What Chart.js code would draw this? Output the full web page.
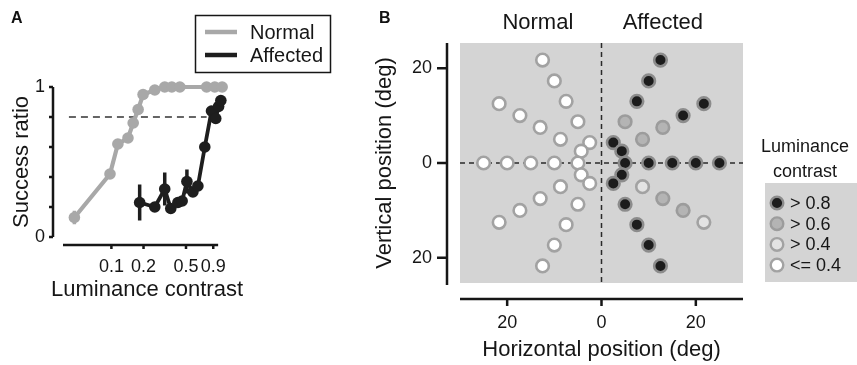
<!DOCTYPE html>
<html>
<head>
<meta charset="utf-8">
<script src="https://cdn.jsdelivr.net/npm/chart.js@4.4.1/dist/chart.umd.min.js"></script>
<style>
  html, body { margin: 0; padding: 0; background: #fff; }
  #wrap { position: relative; width: 857px; height: 365px; font-family: "Liberation Sans", Arial, sans-serif; color: #111; }
  #chartA { position: absolute; left: 0; top: 0; }
  #chartB { position: absolute; left: 360px; top: 0; }
  .tag { position: absolute; font-weight: bold; font-size: 16px; line-height: 20px; }
</style>
</head>
<body>
<div id="wrap">
  <canvas id="chartA" width="360" height="365"></canvas>
  <canvas id="chartB" width="497" height="365"></canvas>
  <div class="tag" style="left:11px;top:8px">A</div>
  <div class="tag" style="left:379px;top:8px">B</div>
</div>
<script>
'use strict';

// ---- panel A : success ratio vs luminance contrast
const contrastNormal   = [0.045, 0.097, 0.115, 0.143, 0.16, 0.178, 0.198, 0.255, 0.316, 0.368, 0.438, 0.78, 0.93, 1.09];
const successNormal    = [0.13, 0.42, 0.62, 0.66, 0.76, 0.85, 0.95, 0.98, 1.0, 1.0, 1.0, 1.0, 1.0, 1.0];
const errNormal        = [0.045, 0.02, 0.02, 0.02, 0.02, 0.02, 0.02, 0.01, 0.01, 0.01, 0.01, 0.01, 0.01, 0.01];
const contrastAffected = [0.184, 0.255, 0.316, 0.36, 0.42, 0.46, 0.51, 0.58, 0.646, 0.75, 0.867, 0.95, 1.01, 1.06];
const successAffected  = [0.23, 0.20, 0.32, 0.19, 0.23, 0.24, 0.37, 0.30, 0.34, 0.60, 0.84, 0.79, 0.87, 0.91];
const errAffected      = [0.12, 0.02, 0.11, 0.03, 0.02, 0.02, 0.08, 0.03, 0.03, 0.03, 0.03, 0.03, 0.02, 0.02];
const thresholdContrast = [0.04, 0.78];
const thresholdLevel    = 0.8;
const xTicksA = [0.1, 0.2, 0.5, 0.9];
const yTicksA = [0, 1];
const yMarksA = [0, 0.2, 0.4, 0.6, 0.8, 1];
const legendOrderA = ['Normal', 'Affected'];

// ---- panel B : target positions (deg), coloured by luminance contrast
const normalX = [-2.5, -5, -7.5, -10, -12.5,  -4.3, -8.7, -13, -17.3, -21.7,  -5, -10, -15, -20, -25,  -4.3, -8.7, -13, -17.3, -21.7,  -2.5, -5, -7.5, -10, -12.5];
const normalY = [4.3, 8.7, 13, 17.3, 21.7,  2.5, 5, 7.5, 10, 12.5,  0, 0, 0, 0, 0,  -2.5, -5, -7.5, -10, -12.5,  -4.3, -8.7, -13, -17.3, -21.7];
const normalLum = [0.3, 0.3, 0.3, 0.3, 0.3,  0.3, 0.3, 0.3, 0.3, 0.3,  0.3, 0.3, 0.3, 0.3, 0.3,  0.3, 0.3, 0.3, 0.3, 0.3,  0.3, 0.3, 0.3, 0.3, 0.3];
const affectedX = [2.5, 5, 7.5, 10, 12.5,  4.3, 8.7, 13, 17.3, 21.7,  5, 10, 15, 20, 25,  4.3, 8.7, 13, 17.3, 21.7,  2.5, 5, 7.5, 10, 12.5];
const affectedY = [4.3, 8.7, 13, 17.3, 21.7,  2.5, 5, 7.5, 10, 12.5,  0, 0, 0, 0, 0,  -2.5, -5, -7.5, -10, -12.5,  -4.3, -8.7, -13, -17.3, -21.7];
const affectedLum = [0.9, 0.7, 0.9, 0.9, 0.9,  0.9, 0.7, 0.7, 0.9, 0.9,  0.9, 0.9, 0.9, 0.9, 0.9,  0.9, 0.5, 0.7, 0.7, 0.5,  0.9, 0.9, 0.9, 0.9, 0.9];
const lumLabels = ['> 0.8', '> 0.6', '> 0.4', '<= 0.4'];
const lumLimits = [0.8, 0.6, 0.4];
const posTicks = [-20, 0, 20];
const sideLabels = ['Normal', 'Affected'];

const lumFill = ['#1c1c1c', '#b4b4b4', '#e3e3e3', '#ffffff'];
const lumRing = ['#8c8c8c', '#9c9c9c', '#a2a2a2', '#a2a2a2'];
const FONT = '"Liberation Sans", Arial, sans-serif';
const INK = '#161616';

Chart.defaults.font.family = FONT;
Chart.defaults.color = INK;

const lumIndex = v => v > lumLimits[0] ? 0 : v > lumLimits[1] ? 1 : v > lumLimits[2] ? 2 : 3;
const pts = (xs, ys) => xs.map((x, i) => ({ x, y: ys[i] }));

// detached axis lines + tick marks, drawn through the chart's scales
function makeAxes(c) {
  return {
    id: 'axes',
    afterDraw(chart) {
      const { ctx, chartArea: ca, scales: { x, y } } = chart;
      ctx.save();
      ctx.strokeStyle = INK;
      ctx.lineWidth = c.width;
      const ax = ca.left - c.yGap;
      ctx.beginPath();
      ctx.moveTo(ax, ca.top - c.yExt[0]);
      ctx.lineTo(ax, ca.bottom + c.yExt[1]);
      c.yMarks.forEach(v => { const p = y.getPixelForValue(v); ctx.moveTo(ax, p); ctx.lineTo(ax - c.yTick, p); });
      const ay = ca.bottom + c.xGap;
      const x0 = c.xFrom != null ? x.getPixelForValue(c.xFrom) : ca.left;
      const x1 = c.xTo != null ? x.getPixelForValue(c.xTo) : ca.right;
      ctx.moveTo(x0, ay);
      ctx.lineTo(x1, ay);
      c.xMarks.forEach(v => { const p = x.getPixelForValue(v); ctx.moveTo(p, ay); ctx.lineTo(p, ay + c.xTick); });
      ctx.stroke();
      if (c.xTitle) {
        // drawn here so the text is not squeezed to the short axis width
        ctx.fillStyle = INK;
        ctx.font = '22px ' + FONT;
        ctx.textAlign = 'center';
        ctx.textBaseline = 'middle';
        ctx.fillText(c.xTitle, c.xTitlePos[0], c.xTitlePos[1]);
      }
      ctx.restore();
    }
  };
}

const errorBars = {
  id: 'errorBars',
  beforeDatasetsDraw(chart) {
    const { ctx, scales: { y } } = chart;
    chart.data.datasets.forEach((ds, di) => {
      if (!ds.errors) return;
      const meta = chart.getDatasetMeta(di);
      ctx.save();
      ctx.strokeStyle = ds.borderColor;
      ctx.lineWidth = 3.5;
      ctx.beginPath();
      ds.data.forEach((d, i) => {
        const px = meta.data[i].x;
        ctx.moveTo(px, y.getPixelForValue(d.y - ds.errors[i]));
        ctx.lineTo(px, y.getPixelForValue(d.y + ds.errors[i]));
      });
      ctx.stroke();
      ctx.restore();
    });
  }
};

const legendA = {
  id: 'legendA',
  afterDraw(chart) {
    const { ctx } = chart;
    ctx.save();
    ctx.strokeStyle = INK;
    ctx.lineWidth = 1.5;
    ctx.strokeRect(195.5, 15.5, 135, 57);
    legendOrderA.forEach((name, i) => {
      const ds = chart.data.datasets.find(d => d.label === name);
      const yy = 32 + i * 23;
      ctx.strokeStyle = ds.borderColor;
      ctx.lineWidth = 4.5;
      ctx.beginPath();
      ctx.moveTo(205, yy);
      ctx.lineTo(237, yy);
      ctx.stroke();
      ctx.fillStyle = INK;
      ctx.font = '20px ' + FONT;
      ctx.textBaseline = 'middle';
      ctx.fillText(name, 250, yy + 1);
    });
    ctx.restore();
  }
};

new Chart(document.getElementById('chartA'), {
  type: 'line',
  data: {
    datasets: [
      {
        label: 'Affected', data: pts(contrastAffected, successAffected), errors: errAffected,
        borderColor: '#1e1e1e', backgroundColor: '#1e1e1e', borderWidth: 3.8,
        pointRadius: 5.8, pointBorderWidth: 0, clip: false,
      },
      {
        label: 'Normal', data: pts(contrastNormal, successNormal), errors: errNormal,
        borderColor: '#a8a8a8', backgroundColor: '#a8a8a8', borderWidth: 4.2,
        pointRadius: 5.8, pointBorderWidth: 0, clip: false,
      },
      {
        label: 'threshold', data: thresholdContrast.map(x => ({ x, y: thresholdLevel })),
        borderColor: '#333', borderWidth: 1.5, borderDash: [7, 5], pointRadius: 0,
      },
    ],
  },
  options: {
    responsive: false,
    animation: false,
    layout: { padding: { left: 0, right: 129, top: 87, bottom: 0 } },
    plugins: { legend: { display: false }, tooltip: { enabled: false } },
    scales: {
      x: {
        type: 'logarithmic', min: 0.0352, max: 1.32,
        grid: { display: false, drawTicks: false }, border: { display: false },
        afterBuildTicks: s => { s.ticks = xTicksA.map(value => ({ value })); },
        afterFit: s => { s.height = 128; },
        ticks: { autoSkip: false, maxRotation: 0, padding: 19, font: { size: 18 }, callback: v => String(v) },
      },
      y: {
        min: 0, max: 1,
        grid: { display: false, drawTicks: false }, border: { display: false },
        afterBuildTicks: s => { s.ticks = yTicksA.map(value => ({ value })); },
        afterFit: s => { s.width = 63; },
        ticks: { padding: 18, font: { size: 18 }, callback: v => String(v) },
        title: { display: true, text: 'Success ratio', font: { size: 22 }, padding: { top: 9, bottom: 0 } },
      },
    },
  },
  plugins: [errorBars, legendA, makeAxes({
    width: 2.5, yGap: 10, yExt: [0, 0], yMarks: yMarksA, yTick: 4,
    xGap: 8, xFrom: 0.0352, xTo: 1.0, xMarks: xTicksA, xTick: 4,
    xTitle: 'Luminance contrast', xTitlePos: [147, 290],
  })],
});

// grey field + dashed meridians for panel B
const fieldB = {
  id: 'fieldB',
  beforeDraw(chart) {
    const { ctx, chartArea: ca } = chart;
    ctx.save();
    ctx.fillStyle = '#d4d4d4';
    ctx.fillRect(ca.left, ca.top, ca.right - ca.left, ca.bottom - ca.top);
    ctx.restore();
  },
  beforeDatasetsDraw(chart) {
    const { ctx, chartArea: ca, scales: { x, y } } = chart;
    ctx.save();
    ctx.strokeStyle = '#2a2a2a';
    ctx.lineWidth = 1.5;
    ctx.setLineDash([5, 4]);
    ctx.beginPath();
    const px = x.getPixelForValue(0), py = y.getPixelForValue(0);
    ctx.moveTo(px, ca.top); ctx.lineTo(px, ca.bottom);
    ctx.moveTo(ca.left, py); ctx.lineTo(ca.right, py);
    ctx.stroke();
    ctx.restore();
  },
  afterDraw(chart) {
    const { ctx, scales: { x } } = chart;
    ctx.save();
    ctx.fillStyle = INK;
    ctx.textAlign = 'center';
    ctx.textBaseline = 'middle';
    ctx.font = '22px ' + FONT;
    ctx.fillText(sideLabels[0], x.getPixelForValue(-13.5), 23);
    ctx.fillText(sideLabels[1], x.getPixelForValue(13), 23);
    // luminance legend
    ctx.font = '18px ' + FONT;
    ctx.fillText('Luminance', 445, 147);
    ctx.fillText('contrast', 445, 172);
    ctx.fillStyle = '#d4d4d4';
    ctx.fillRect(405, 183, 92, 99);
    ctx.textAlign = 'left';
    lumLabels.forEach((t, i) => {
      const yy = 203 + i * 20.7;
      ctx.beginPath();
      ctx.arc(417, yy, 6.3, 0, Math.PI * 2);
      ctx.fillStyle = lumFill[i];
      ctx.fill();
      ctx.lineWidth = 2.4;
      ctx.strokeStyle = lumRing[i];
      ctx.stroke();
      ctx.fillStyle = INK;
      ctx.fillText(t, 430, yy + 1);
    });
    ctx.restore();
  }
};

new Chart(document.getElementById('chartB'), {
  type: 'scatter',
  data: {
    datasets: [
      {
        label: 'Normal', data: pts(normalX, normalY),
        pointBackgroundColor: normalLum.map(v => lumFill[lumIndex(v)]),
        pointBorderColor: normalLum.map(v => lumRing[lumIndex(v)]),
        pointRadius: 6.3, pointBorderWidth: 2.6, clip: false,
      },
      {
        label: 'Affected', data: pts(affectedX, affectedY),
        pointBackgroundColor: affectedLum.map(v => lumFill[lumIndex(v)]),
        pointBorderColor: affectedLum.map(v => lumRing[lumIndex(v)]),
        pointRadius: 6.3, pointBorderWidth: 2.6, clip: false,
      },
    ],
  },
  options: {
    responsive: false,
    animation: false,
    layout: { padding: { left: 0, right: 114, top: 43, bottom: 0 } },
    plugins: { legend: { display: false }, tooltip: { enabled: false } },
    scales: {
      x: {
        min: -30, max: 30,
        grid: { display: false, drawTicks: false }, border: { display: false },
        afterBuildTicks: s => { s.ticks = posTicks.map(value => ({ value })); },
        afterFit: s => { s.height = 82; },
        ticks: { padding: 29, font: { size: 18 }, callback: v => String(Math.abs(v)) },
        title: { display: true, text: 'Horizontal position (deg)', font: { size: 22 }, padding: { top: 0, bottom: 2 } },
      },
      y: {
        min: -25.3, max: 25.3,
        grid: { display: false, drawTicks: false }, border: { display: false },
        afterBuildTicks: s => { s.ticks = posTicks.map(value => ({ value })); },
        afterFit: s => { s.width = 100; },
        ticks: { padding: 28, font: { size: 18 }, callback: v => String(Math.abs(v)) },
        title: { display: true, text: 'Vertical position (deg)', font: { size: 22 }, padding: { top: 12, bottom: 0 } },
      },
    },
  },
  plugins: [fieldB, makeAxes({ width: 2.5, yGap: 13, yExt: [0, 2], yMarks: posTicks, yTick: 10, xGap: 16, xMarks: posTicks, xTick: 7 })],
});
</script>
</body>
</html>
